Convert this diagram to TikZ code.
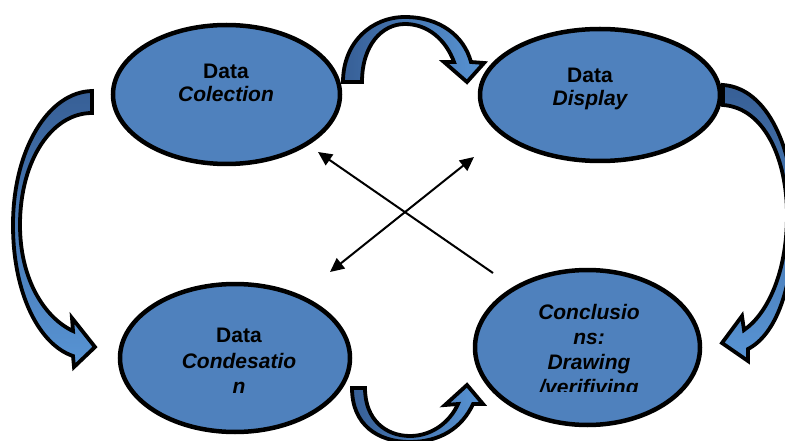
\documentclass[tikz,border=0pt]{standalone}
\usepackage{fontspec}
\setmainfont{Liberation Sans}
\usetikzlibrary{arrows.meta,shapes.geometric}
\definecolor{ellfill}{RGB}{79,129,189}
\definecolor{adark}{RGB}{55,95,150}
\definecolor{alight}{RGB}{88,148,212}
\tikzset{
  cycnode/.style={ellipse, draw=black, line width=4.5pt, fill=ellfill, inner sep=0pt},
  lbl/.style={align=center, inner sep=0pt, font=\fontsize{21}{23}\selectfont\bfseries},
  blockarrow/.style={draw=black, line width=3.8pt, line join=miter},
  link/.style={line width=2pt, -{Triangle[length=14pt,width=13pt]}},
  dlink/.style={line width=2pt, {Triangle[length=14pt,width=13pt]}-{Triangle[length=14pt,width=13pt]}},
}
\begin{document}
\begin{tikzpicture}[x=1pt,y=-1pt]
\useasboundingbox (0,0) rectangle (785,441);
\clip (0,0) rectangle (785,441);

% curved block arrows
\path[blockarrow, top color=adark, bottom color=alight]
  (92,91) .. controls (48,92) and (13,150) .. (13,225)
  .. controls (13,295) and (40,345) .. (73,356)
  -- (74,367) -- (95,347) -- (72,318) -- (73,331)
  .. controls (45,318) and (20,280) .. (20,225)
  .. controls (20,160) and (52,113) .. (92,113) -- cycle;

\path[blockarrow, top color=adark, bottom color=alight]
  (723,85) .. controls (768,88) and (794,150) .. (794,215)
  .. controls (794,290) and (775,335) .. (748,349)
  -- (748,361) -- (722,343) -- (742,316) -- (744,330)
  .. controls (766,315) and (787,275) .. (787,215)
  .. controls (787,160) and (765,108) .. (723,105) -- cycle;

\path[blockarrow, left color=adark, right color=alight]
  (343,82) .. controls (343,42) and (372,17) .. (405,17)
  .. controls (440,17) and (464,36) .. (471,62)
  -- (484,63) -- (467,82) -- (444,62) -- (454,62)
  .. controls (446,40) and (428,24) .. (405,24)
  .. controls (382,24) and (362,45) .. (362,82) -- cycle;

\path[blockarrow, left color=adark, right color=alight]
  (352,388) .. controls (352,425) and (378,442) .. (410,442)
  .. controls (440,442) and (462,428) .. (473,404)
  -- (483,404) -- (467,385) -- (445,405) -- (458,404)
  .. controls (450,422) and (432,436) .. (410,436)
  .. controls (386,436) and (365,420) .. (365,388) -- cycle;

% ellipses
\node[cycnode, minimum width=227pt, minimum height=139pt] (tl) at (226.5,94.5) {};
\node[cycnode, minimum width=240pt, minimum height=132pt] (tr) at (600,95) {};
\node[cycnode, minimum width=230pt, minimum height=148pt] (bl) at (235,358) {};
\node[cycnode, minimum width=225pt, minimum height=155pt] (br) at (587.5,347.5) {};

% labels
\node[lbl] (tltext) at (226,83) {Data\\{\itshape Colection}};
\node[lbl] (trtext) at (590,89) {Data\\{\itshape Display}};
\node[lbl, font=\fontsize{21}{25.5}\selectfont\bfseries] (bltext) at (239,361) {Data\\{\itshape Condesatio}\\{\itshape n}};
\begin{scope}
  \clip (470,260) rectangle (710,391);
  \node[lbl, font=\fontsize{21}{25}\selectfont\bfseries\itshape] (brtext) at (589,352)
    {Conclusio\\ns:\\Drawing\\/verifiving};
\end{scope}

% crossing arrows
\coordinate (c1s) at (493,273);
\coordinate (c1e) at (318,152);
\coordinate (c2s) at (330,272);
\coordinate (c2e) at (474,157);
\draw[link] (c1s) -- (c1e);
\draw[dlink] (c2s) -- (c2e);
\end{tikzpicture}
\end{document}
